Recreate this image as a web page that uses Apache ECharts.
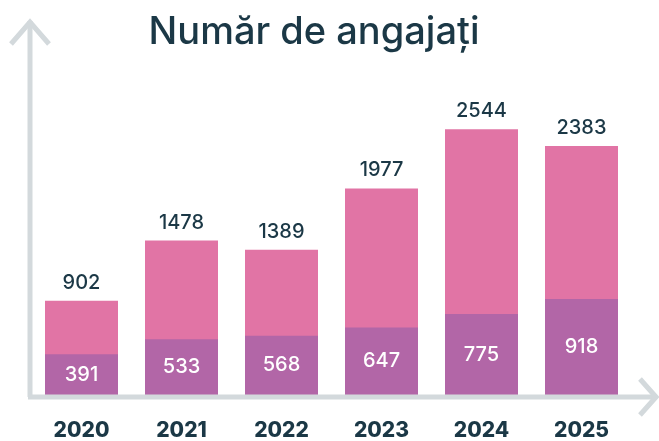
<!DOCTYPE html>
<html>
<head>
<meta charset="utf-8">
<script src="https://cdn.jsdelivr.net/npm/echarts@6/dist/echarts.min.js"></script>
<style>
  html, body { margin: 0; padding: 0; background: #fff; }
  #chart { width: 659px; height: 441px; }
</style>
</head>
<body>
<div id="chart"></div>
<script>
var years = ['2020', '2021', '2022', '2023', '2024', '2025'];
var totals = [902, 1478, 1389, 1977, 2544, 2383];
var part = [391, 533, 568, 647, 775, 918];

var axisGray = '#d3d9dc';
var dark = '#1b3846';

var myChart = echarts.init(document.getElementById('chart'));
myChart.setOption({
    animation: false,
    title: {
        text: 'Număr de angajați',
        left: 309,
        top: 9,
        textAlign: 'center',
        textStyle: {
            fontFamily: 'Inter',
            fontSize: 38,
            fontWeight: 500,
            color: dark
        }
    },
    grid: {
        left: 31.5,
        right: 27.5,
        top: 81.5,
        bottom: 46
    },
    xAxis: {
        type: 'category',
        data: years,
        axisLine: { show: false },
        axisTick: { show: false },
        axisLabel: {
            margin: 25,
            fontFamily: 'Inter',
            fontSize: 21,
            fontWeight: 800,
            color: dark
        }
    },
    yAxis: {
        type: 'value',
        min: 0,
        max: 3000,
        show: false
    },
    series: [{
        type: 'bar',
        data: totals,
        barWidth: 73,
        barGap: '-100%',
        itemStyle: { color: '#e174a5' },
        label: {
            show: true,
            position: 'top',
            distance: 8,
            fontFamily: 'Inter',
            fontSize: 20,
            fontWeight: 500,
            color: dark
        }
    }, {
        type: 'bar',
        data: part,
        barWidth: 73,
        itemStyle: { color: '#b266a7' },
        label: {
            show: true,
            position: 'inside',
            fontFamily: 'Inter',
            fontSize: 20,
            fontWeight: 500,
            color: '#fff'
        }
    }],
    // axes drawn as open arrows
    graphic: [{
        type: 'polyline',
        z: 100,
        shape: { points: [[30, 397], [30, 21]] },
        style: { stroke: axisGray, lineWidth: 5, fill: null }
    }, {
        type: 'polyline',
        z: 100,
        shape: { points: [[11, 44], [30, 22], [49, 44]] },
        style: { stroke: axisGray, lineWidth: 5, fill: null }
    }, {
        type: 'polyline',
        z: 100,
        shape: { points: [[28, 397], [656, 397]] },
        style: { stroke: axisGray, lineWidth: 5, fill: null }
    }, {
        type: 'polyline',
        z: 100,
        shape: { points: [[640, 379], [656, 397], [640, 415]] },
        style: { stroke: axisGray, lineWidth: 5, fill: null }
    }]
});
</script>
</body>
</html>
